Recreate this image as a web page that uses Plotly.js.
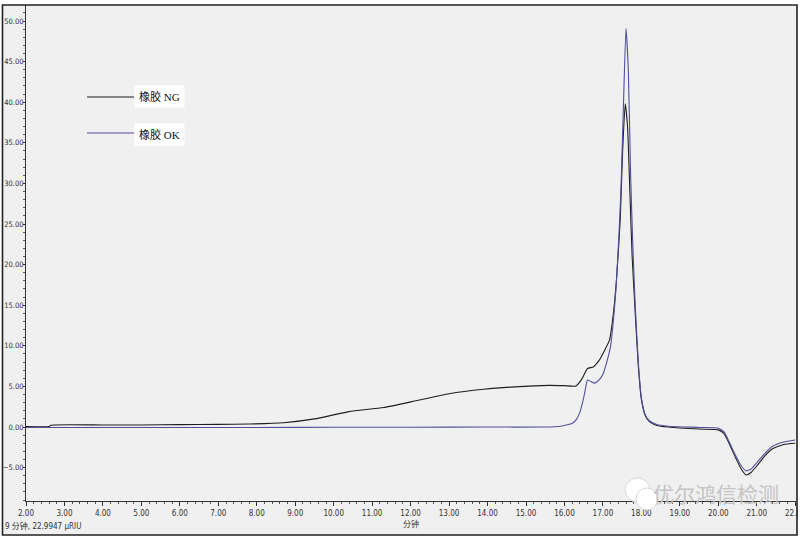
<!DOCTYPE html>
<html>
<head>
<meta charset="utf-8">
<script src="https://cdn.plot.ly/plotly-3.0.1.min.js"></script>
<style>
html,body{margin:0;padding:0;background:#fff;}
#chart{width:800px;height:541px;}
</style>
</head>
<body>
<div id="chart"></div>
<script>
// ---- data (minutes vs µRIU) ----
const ngX = [2.0, 2.6, 2.65, 4.0, 5.0, 6.0, 7.0, 7.8, 8.7, 9.5, 10.4, 11.3, 12.2, 13.0, 13.9, 14.7, 15.6, 16.0, 16.3, 16.45, 16.6, 16.75, 16.9, 17.05, 17.17, 17.26, 17.35, 17.45, 17.51, 17.58, 17.64, 17.7, 17.76, 17.84, 17.92, 18.0, 18.1, 18.2, 18.4, 18.7, 19.5, 20.0, 20.15, 20.3, 20.45, 20.6, 20.72, 20.85, 21.0, 21.2, 21.4, 21.7, 22.0];
const ngY = [0.05, 0.05, 0.22, 0.25, 0.25, 0.3, 0.32, 0.37, 0.53, 1.0, 1.9, 2.4, 3.3, 4.1, 4.65, 4.95, 5.13, 5.1, 5.05, 5.9, 7.2, 7.4, 8.2, 9.5, 10.7, 13.5, 18.0, 25.5, 33.7, 39.8, 37.0, 29.0, 21.0, 14.0, 7.5, 3.4, 1.4, 0.7, 0.2, 0.0, -0.25, -0.35, -0.8, -2.2, -3.8, -5.2, -5.9, -5.6, -4.8, -3.6, -2.7, -2.15, -2.0];

const okX = [2.0, 4.0, 6.0, 8.0, 10.0, 12.0, 14.0, 15.5, 15.9, 16.1, 16.22, 16.32, 16.4, 16.47, 16.53, 16.6, 16.69, 16.78, 16.9, 17.0, 17.1, 17.2, 17.26, 17.34, 17.42, 17.47, 17.53, 17.6, 17.66, 17.72, 17.78, 17.84, 17.92, 18.0, 18.1, 18.2, 18.4, 18.7, 19.5, 20.0, 20.15, 20.3, 20.45, 20.6, 20.72, 20.85, 21.0, 21.2, 21.4, 21.7, 22.0];
const okY = [-0.05, -0.05, -0.05, -0.05, -0.03, -0.02, 0.0, 0.0, 0.1, 0.3, 0.5, 1.0, 1.8, 3.0, 4.3, 5.8, 5.6, 5.4, 5.8, 6.5, 8.0, 10.0, 12.5, 17.0, 24.0, 29.5, 39.0, 49.1, 44.0, 31.0, 22.0, 15.0, 8.0, 3.6, 1.5, 0.8, 0.3, 0.1, -0.05, -0.15, -0.6, -2.0, -3.5, -4.8, -5.4, -5.2, -4.4, -3.3, -2.4, -1.85, -1.6];

const seriesNames = ['橡胶 NG', '橡胶 OK'];
const seriesColors = ['#1e1e1e', '#4f4f9c'];
const xTitle = '分钟';
const cursorText = '9 分钟, 22.9947 µRIU';
const watermark = '优尔鸿信检测';

const px = v => (v - 26) / 770;      // pixel x -> paper
const py = v => (501 - v) / 496;     // pixel y -> paper

const traces = [
  {x: ngX, y: ngY, name: seriesNames[0], mode: 'lines', line: {color: seriesColors[0], width: 1.1, shape: 'spline', smoothing: 0.5}},
  {x: okX, y: okY, name: seriesNames[1], mode: 'lines', line: {color: seriesColors[1], width: 1.1, shape: 'spline', smoothing: 0.5}}
];

const fam = 'DejaVu Sans Condensed, Liberation Sans Narrow, Liberation Sans, sans-serif';

const layout = {
  width: 800, height: 541,
  margin: {l: 26, r: 4, t: 5, b: 40},
  paper_bgcolor: '#ffffff',
  plot_bgcolor: '#f0f0f0',
  showlegend: false,
  xaxis: {
    range: [2, 22.02], dtick: 1, tick0: 2, tickformat: '.2f',
    ticks: 'outside', ticklen: 4, tickcolor: '#333', tickwidth: 1,
    showline: true, linecolor: '#333', linewidth: 1,
    showgrid: false, zeroline: false, ticklabeloverflow: 'allow',
    tickfont: {family: fam, size: 8, color: '#333'},
    minor: {dtick: 0.2, ticks: 'outside', ticklen: 2, tickcolor: '#555', showgrid: false},
    title: {text: xTitle, font: {family: 'Noto Sans CJK SC, sans-serif', size: 8, color: '#333'}, standoff: 3}
  },
  yaxis: {
    range: [-9.11, 51.97], dtick: 5, tick0: 0, tickformat: '.2f',
    ticks: 'outside', ticklen: 2, tickcolor: '#333', tickwidth: 1,
    showline: true, linecolor: '#333', linewidth: 1,
    showgrid: false, zeroline: false, ticklabelstandoff: -2,
    tickfont: {family: fam, size: 7.5, color: '#333'},
    minor: {dtick: 1, ticks: 'outside', ticklen: 2, tickcolor: '#555', showgrid: false}
  },
  shapes: [
    {type: 'rect', xref: 'paper', yref: 'paper', x0: px(3), x1: px(797), y0: py(535), y1: py(5),
     fillcolor: '#f0f0f0', line: {width: 0}, layer: 'below'},
    {type: 'rect', xref: 'paper', yref: 'paper', x0: px(2.5), x1: px(797), y0: py(535), y1: py(5),
     fillcolor: 'rgba(0,0,0,0)', line: {color: '#222', width: 1.6}, layer: 'above'},
    {type: 'rect', xref: 'paper', yref: 'paper', x0: px(798), x1: px(800), y0: py(541), y1: py(0),
     fillcolor: '#ffffff', line: {width: 0}, layer: 'above'},
    // legend sample lines
    {type: 'line', xref: 'paper', yref: 'paper', x0: px(87), x1: px(134), y0: py(97), y1: py(97),
     line: {color: seriesColors[0], width: 1.1}},
    {type: 'line', xref: 'paper', yref: 'paper', x0: px(87), x1: px(134), y0: py(133), y1: py(133),
     line: {color: seriesColors[1], width: 1.1}},
    // watermark icon bubbles
    {type: 'circle', xref: 'paper', yref: 'paper', x0: px(625), x1: px(650), y0: py(502), y1: py(478),
     fillcolor: '#ffffff', line: {color: '#d8d8d8', width: 1}, layer: 'above'},
    {type: 'circle', xref: 'paper', yref: 'paper', x0: px(636), x1: px(658), y0: py(510), y1: py(488),
     fillcolor: '#ffffff', line: {color: '#d8d8d8', width: 1}, layer: 'above'}
  ],
  annotations: [
    {xref: 'paper', yref: 'paper', x: px(134), y: py(97), xanchor: 'left', yanchor: 'middle', showarrow: false,
     text: seriesNames[0], bgcolor: '#ffffff', borderpad: 4,
     font: {family: 'Liberation Serif, Noto Sans CJK SC, serif', size: 11, color: '#111'}},
    {xref: 'paper', yref: 'paper', x: px(134), y: py(134), xanchor: 'left', yanchor: 'middle', showarrow: false,
     text: seriesNames[1], bgcolor: '#ffffff', borderpad: 4,
     font: {family: 'Liberation Serif, Noto Sans CJK SC, serif', size: 11, color: '#111'}},
    {xref: 'paper', yref: 'paper', x: px(3), y: py(526), xanchor: 'left', yanchor: 'middle', showarrow: false,
     text: cursorText, font: {family: 'DejaVu Sans Condensed, Noto Sans CJK SC, sans-serif', size: 8, color: '#333'}},
    {xref: 'paper', yref: 'paper', x: px(716), y: py(493), xanchor: 'center', yanchor: 'middle', showarrow: false,
     text: watermark, font: {family: 'Noto Sans CJK SC, sans-serif', size: 21, color: '#c4c4c4'}}
  ]
};

Plotly.newPlot('chart', traces, layout, {staticPlot: true, displayModeBar: false});
</script>
</body>
</html>
